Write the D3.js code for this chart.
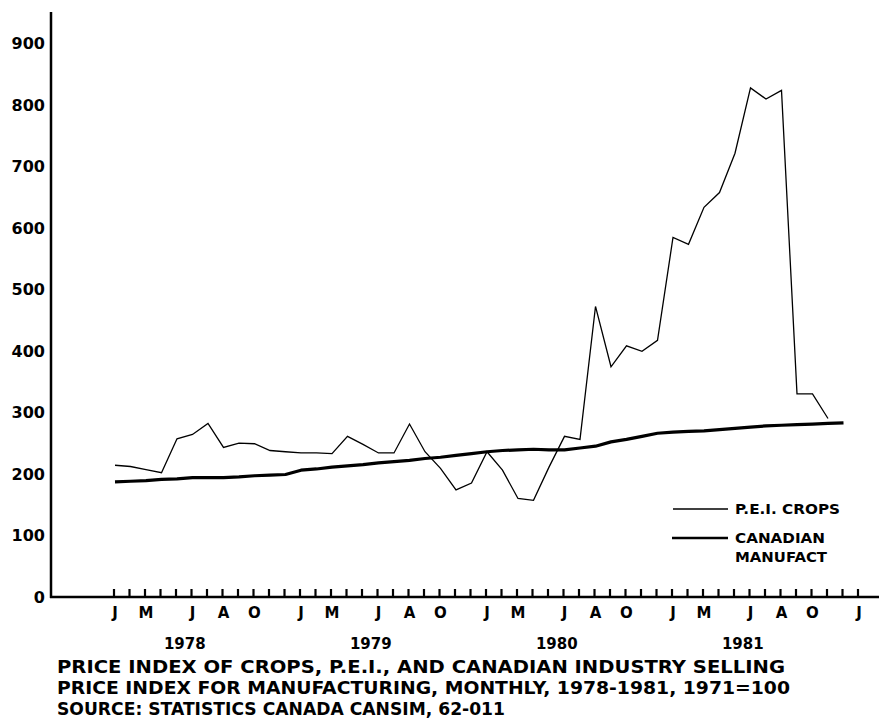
<!DOCTYPE html>
<html>
<head>
<meta charset="utf-8">
<script src="https://cdn.jsdelivr.net/npm/d3@7"></script>
<style>
  body { margin: 0; background: #fff; }
  svg { display: block; }
  text { font-family: "DejaVu Sans", "Liberation Sans", Arial, sans-serif; font-weight: bold; fill: #000; }
</style>
</head>
<body>
<svg width="879" height="722"></svg>
<script>
// monthly values, Jan 1978 onward (1971=100)
var peiCrops = [214, 212, 207, 202, 257, 264, 282, 243, 250, 249, 238, 236,
                234, 234, 233, 261, 248, 234, 234, 281, 236, 209, 174, 185,
                236, 206, 160, 157, 211, 261, 256, 472, 374, 408, 399, 417,
                584, 573, 633, 657, 721, 827, 809, 823, 330, 330, 290];
var canManufact = [187, 188, 189, 191, 192, 194, 194, 194, 195, 197, 198, 199,
                   206, 208, 211, 213, 215, 218, 220, 222, 225, 227, 230, 233,
                   236, 238, 239, 240, 239, 239, 242, 245, 252, 256, 261, 266,
                   268, 269, 270, 272, 274, 276, 278, 279, 280, 281, 282, 283];
var monthLetters = ['J', 'M', 'J', 'A', 'O'];
var monthIdx = [0, 2, 5, 7, 9];
var years = ['1978', '1979', '1980', '1981'];
var yTicks = [0, 100, 200, 300, 400, 500, 600, 700, 800, 900];
var titleLines = [
  'PRICE INDEX OF CROPS, P.E.I., AND CANADIAN INDUSTRY SELLING',
  'PRICE INDEX FOR MANUFACTURING, MONTHLY, 1978-1981, 1971=100',
  'SOURCE:  STATISTICS CANADA CANSIM, 62-011'
];
var titleWidths = [728, 733, 448];

var svg = d3.select('svg');
var x = d3.scaleLinear().domain([0, 48]).range([115, 859]);
var y = d3.scaleLinear().domain([0, 900]).range([597, 43]);
var axisX0 = 51, axisY0 = 597;

// axes
svg.append('line').attr('x1', axisX0).attr('x2', axisX0).attr('y1', 12).attr('y2', axisY0 + 1)
  .style('stroke', '#000').style('stroke-width', 2.5);
svg.append('line').attr('x1', axisX0 - 1).attr('x2', 879).attr('y1', axisY0).attr('y2', axisY0)
  .style('stroke', '#000').style('stroke-width', 2.5);

// month ticks
svg.selectAll('.tick').data(d3.range(0, 49)).enter().append('line')
  .attr('class', 'tick')
  .attr('x1', function(d){return x(d) - 1;})
  .attr('x2', function(d){return x(d) - 1;})
  .attr('y1', axisY0).attr('y2', axisY0 - 8)
  .style('stroke', '#000').style('stroke-width', 2.2);

// y labels
svg.selectAll('.ylab').data(yTicks).enter().append('text')
  .attr('class', 'ylab')
  .attr('x', 45).attr('y', function(d){return y(d) + 6;})
  .attr('text-anchor', 'end').style('font-size', '16px')
  .text(function(d){return d;});

// month letters, repeated per year, plus final J
var mLabels = [];
years.forEach(function(yr, i) {
  monthIdx.forEach(function(m, j) { mLabels.push({m: i * 12 + m, t: monthLetters[j]}); });
});
mLabels.push({m: 48, t: 'J'});
svg.selectAll('.mlab').data(mLabels).enter().append('text')
  .attr('class', 'mlab')
  .attr('x', function(d){return x(d.m);}).attr('y', 618)
  .attr('text-anchor', 'middle').style('font-size', '15px')
  .text(function(d){return d.t;});

svg.selectAll('.yrlab').data(years).enter().append('text')
  .attr('class', 'yrlab')
  .attr('x', function(d, i){return x(i * 12 + 4.5);}).attr('y', 649)
  .attr('text-anchor', 'middle').style('font-size', '15px')
  .text(function(d){return d;});

// lines
var line = d3.line().x(function(d, i){return x(i);}).y(function(d){return y(d);});
svg.append('path').datum(canManufact).attr('d', line)
  .style('fill', 'none').style('stroke', '#000').style('stroke-width', 3.2)
  .style('stroke-linejoin', 'round');
svg.append('path').datum(peiCrops).attr('d', line)
  .style('fill', 'none').style('stroke', '#000').style('stroke-width', 1.3)
  .style('stroke-linejoin', 'miter');

// legend
svg.append('line').attr('x1', 673).attr('x2', 728).attr('y1', 509).attr('y2', 509)
  .style('stroke', '#000').style('stroke-width', 1.3);
svg.append('text').attr('x', 735).attr('y', 514).style('font-size', '14px')
  .attr('textLength', 105).attr('lengthAdjust', 'spacingAndGlyphs').text('P.E.I. CROPS');
svg.append('line').attr('x1', 672).attr('x2', 728).attr('y1', 538).attr('y2', 538)
  .style('stroke', '#000').style('stroke-width', 2.5);
svg.append('text').attr('x', 735).attr('y', 543).style('font-size', '14px')
  .attr('textLength', 90).attr('lengthAdjust', 'spacingAndGlyphs').text('CANADIAN');
svg.append('text').attr('x', 735).attr('y', 562).style('font-size', '14px')
  .attr('textLength', 92).attr('lengthAdjust', 'spacingAndGlyphs').text('MANUFACT');

// caption
svg.selectAll('.title').data(titleLines).enter().append('text')
  .attr('class', 'title')
  .attr('x', 57).attr('y', function(d, i){return 673 + i * 21;})
  .style('font-size', '18px')
  .attr('textLength', function(d, i){return titleWidths[i];})
  .attr('lengthAdjust', 'spacingAndGlyphs')
  .text(function(d){return d;});
</script>
</body>
</html>
